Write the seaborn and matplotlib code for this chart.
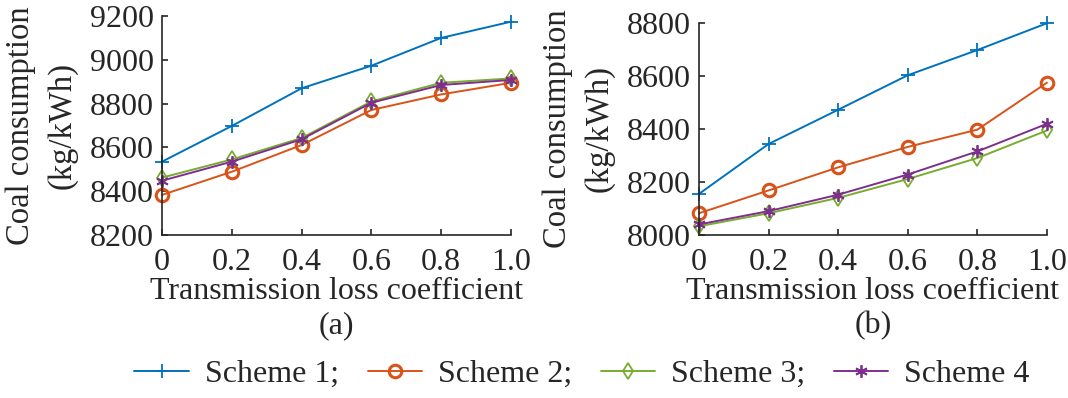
import numpy as np
import pandas as pd
import seaborn as sns
import matplotlib
matplotlib.use("Agg")
import matplotlib.pyplot as plt

# transmission loss coefficient (x axis)
coef = [0, 0.2, 0.4, 0.6, 0.8, 1.0]
xtick_labels = ["0", "0.2", "0.4", "0.6", "0.8", "1.0"]
schemes = ["Scheme 1", "Scheme 2", "Scheme 3", "Scheme 4"]
legend_labels = ["Scheme 1;", "Scheme 2;", "Scheme 3;", "Scheme 4"]

# panel (a) coal consumption, kg/kWh
a_s1 = [8535, 8698, 8870, 8973, 9100, 9174]
a_s2 = [8383, 8489, 8611, 8771, 8842, 8895]
a_s3 = [8462, 8545, 8643, 8810, 8895, 8915]
a_s4 = [8448, 8535, 8637, 8804, 8885, 8908]

# panel (b)
b_s1 = [8155, 8343, 8472, 8602, 8697, 8798]
b_s2 = [8082, 8168, 8255, 8332, 8397, 8574]
b_s3 = [8033, 8082, 8140, 8211, 8290, 8394]
b_s4 = [8040, 8090, 8152, 8228, 8315, 8419]

colors = ["#0072BD", "#D95319", "#77AC30", "#7E2F8E"]
markers = ["+", "o", "d", (6, 2, 0)]
msizes = [10, 9, 8, 9]

sns.set_style("ticks")
plt.rcParams["font.family"] = ["Liberation Serif", "DejaVu Serif"]

fig = plt.figure(figsize=(10.68, 3.98), dpi=100)
axa = fig.add_axes([0.1517, 0.4095, 0.3268, 0.5503])
axb = fig.add_axes([0.6545, 0.4095, 0.3258, 0.5335])


def draw_panel(ax, series, ylim, yticks, tag):
    df = pd.DataFrame({"coef": coef * 4,
                       "value": sum(series, []),
                       "scheme": np.repeat(schemes, len(coef))})
    for i, s in enumerate(schemes):
        sub = df[df["scheme"] == s]
        sns.lineplot(data=sub, x="coef", y="value", ax=ax, color=colors[i],
                     marker=markers[i], markersize=msizes[i], linewidth=1.4,
                     markerfacecolor="none", markeredgecolor=colors[i],
                     markeredgewidth=2.2 if i == 1 else 1.3,
                     label=legend_labels[i], clip_on=False)
    ax.set_xlim(0, 1)
    ax.set_ylim(*ylim)
    ax.set_xticks(coef)
    ax.set_xticklabels(xtick_labels)
    ax.set_yticks(yticks)
    ax.tick_params(direction="in", length=4, width=1.2, labelsize=23)
    ax.tick_params(axis="x", pad=9)
    ax.tick_params(axis="y", pad=6)
    for sp in ["top", "right"]:
        ax.spines[sp].set_visible(False)
    for sp in ["left", "bottom"]:
        ax.spines[sp].set_linewidth(1.2)
    ax.set_xlabel("Transmission loss coefficient\n" + tag, fontsize=23,
                  labelpad=0, linespacing=1.25)
    ax.set_ylabel("Coal consumption\n(kg/kWh)", fontsize=23.5, labelpad=9,
                  linespacing=1.45)
    ax.get_legend().remove()


draw_panel(axa, [a_s1, a_s2, a_s3, a_s4], (8200, 9200),
           [8200, 8400, 8600, 8800, 9000, 9200], "(a)")
draw_panel(axb, [b_s1, b_s2, b_s3, b_s4], (8000, 8800),
           [8000, 8200, 8400, 8600, 8800], "(b)")

handles, labels = axa.get_legend_handles_labels()
fig.legend(handles, labels, loc="center", bbox_to_anchor=(0.545, 0.06),
           ncol=4, frameon=False, fontsize=23, handlelength=1.7,
           columnspacing=0.9, handletextpad=0.5)

fig.savefig("out.png", dpi=100)
